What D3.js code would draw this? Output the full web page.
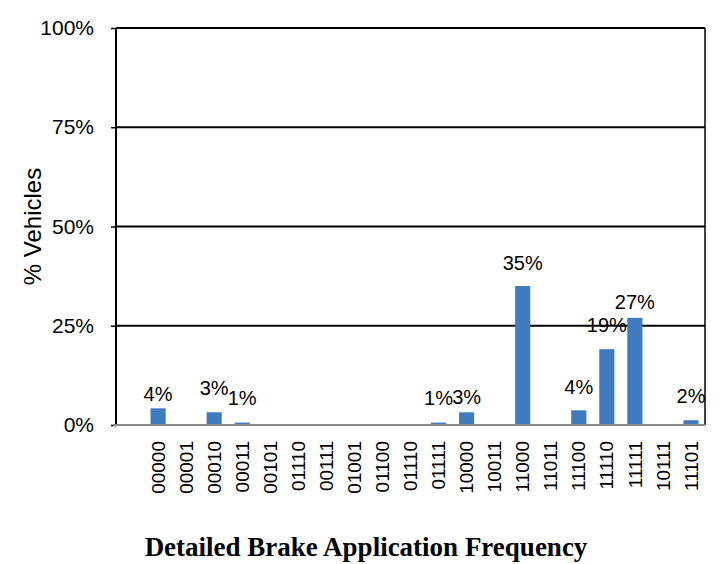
<!DOCTYPE html>
<meta charset="utf-8">
<head>
    <title>Detailed Brake Application Frequency</title>
    <script src="https://cdn.jsdelivr.net/npm/d3@7"></script>
    <style>
        body { margin: 0; background: #fff; }
        text { font-family: "Liberation Sans", Arial, sans-serif; fill: #000; }
        .title { font-family: "Liberation Serif", "Times New Roman", serif; font-weight: bold; }
    </style>
</head>
<body>
<div id="chart"></div>
<script>
    // categories (first slot is an empty category in the source chart)
    var patterns = ["", "00000", "00001", "00010", "00011", "00101", "01110", "00111", "01001", "01100",
        "01110", "01111", "10000", "10011", "11000", "11011", "11100", "11110", "11111", "10111", "11101"];
    // % of vehicles
    var pctValues = [0, 4.2, 0, 3.2, 0.6, 0, 0, 0, 0, 0,
        0, 0.6, 3.2, 0, 35, 0, 3.7, 19.1, 27, 0, 1.2];
    // data labels as shown on the chart
    var pctLabels = ["", "4%", "", "3%", "1%", "", "", "", "", "",
        "", "1%", "3%", "", "35%", "", "4%", "19%", "27%", "", "2%"];
    // label distance above bar top (labels were nudged by hand in the original)
    var labelDy = [0, 14, 0, 24, 25, 0, 0, 0, 0, 0, 0, 25, 15, 0, 23, 0, 23, 24, 16, 0, 24];
    var yTicks = [0, 25, 50, 75, 100];

    var margin = { top: 28, right: 20, bottom: 139, left: 116 },
        width = 725,
        height = 564,
        innerW = width - margin.left - margin.right,
        innerH = height - margin.top - margin.bottom;

    var svg = d3.select("#chart").append("svg")
        .attr("width", width)
        .attr("height", height);

    var g = svg.append("g")
        .attr("transform", "translate(" + margin.left + "," + margin.top + ")");

    var idx = d3.range(patterns.length);

    var x = d3.scaleBand()
        .domain(idx)
        .range([0, innerW])
        .paddingInner(0.46)
        .paddingOuter(0.23);

    var y = d3.scaleLinear()
        .domain([0, 100])
        .range([innerH, 0]);

    // gridlines
    g.append("g").selectAll("line")
        .data(yTicks.filter(d => d > 0))
        .enter().append("line")
        .attr("x1", 0).attr("x2", innerW)
        .attr("y1", d => y(d)).attr("y2", d => y(d))
        .attr("stroke", "#000")
        .attr("stroke-width", d => d == 100 ? 2.2 : 1.8);

    // right border
    g.append("line")
        .attr("x1", innerW).attr("x2", innerW)
        .attr("y1", 0).attr("y2", innerH)
        .attr("stroke", "#000").attr("stroke-width", 1.5);

    // bars
    g.append("g").selectAll("rect")
        .data(idx)
        .enter().append("rect")
        .attr("x", i => x(i))
        .attr("width", x.bandwidth())
        .attr("y", i => y(pctValues[i]))
        .attr("height", i => innerH - y(pctValues[i]))
        .attr("fill", "#3f7bbf");

    // data labels
    g.append("g").selectAll("text")
        .data(idx.filter(i => pctLabels[i] != ""))
        .enter().append("text")
        .attr("x", i => x(i) + x.bandwidth() / 2)
        .attr("y", i => y(pctValues[i]) - labelDy[i])
        .attr("dy", "0.35em")
        .attr("text-anchor", "middle")
        .style("font-size", "20px")
        .text(i => pctLabels[i]);

    // y axis
    var yAxis = g.append("g")
        .call(d3.axisLeft(y).tickValues(yTicks).tickSize(5).tickPadding(17).tickFormat(d => d + "%"));
    yAxis.select(".domain").attr("stroke", "#000").attr("stroke-width", 2).attr("d", "M0,0V" + innerH);
    yAxis.selectAll(".tick line").attr("stroke", "#000").attr("stroke-width", 1.5);
    yAxis.selectAll(".tick text").style("font-size", "21px").style("font-family", "Liberation Sans, Arial, sans-serif");

    // x axis
    var xAxis = g.append("g")
        .attr("transform", "translate(0," + innerH + ")")
        .call(d3.axisBottom(x).tickSize(0).tickFormat(i => patterns[i]));
    xAxis.select(".domain").attr("stroke", "#888").attr("stroke-width", 2).attr("d", "M-3,0H" + innerW);
    xAxis.selectAll(".tick text")
        .attr("transform", "rotate(-90)")
        .attr("text-anchor", "end")
        .attr("x", -16)
        .attr("y", 0)
        .attr("dy", "0.35em")
        .style("font-size", "19px")
        .style("font-family", "Liberation Sans, Arial, sans-serif");

    // axis titles
    svg.append("text")
        .attr("transform", "translate(33," + (margin.top + y(50)) + ") rotate(-90)")
        .attr("text-anchor", "middle")
        .attr("dy", "0.35em")
        .style("font-size", "24px")
        .text("% Vehicles");

    svg.append("text")
        .attr("class", "title")
        .attr("x", 366)
        .attr("y", 556)
        .attr("text-anchor", "middle")
        .style("font-size", "27px")
        .text("Detailed Brake Application Frequency");
</script>
</body>
</html>
